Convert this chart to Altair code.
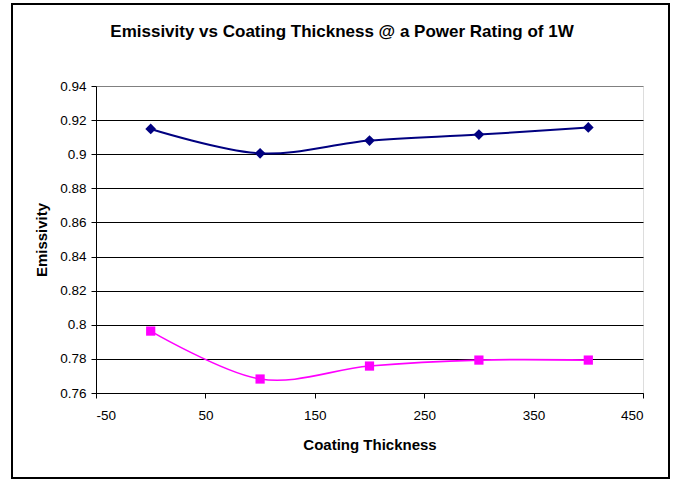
import altair as alt
import pandas as pd

# Coating thickness values and measured emissivity for the two samples
thickness = [0, 100, 200, 300, 400]
emissivity_a = [0.9148, 0.9005, 0.9080, 0.9115, 0.9157]
emissivity_b = [0.7963, 0.7682, 0.7758, 0.7793, 0.7793]
series_names = ["Series1", "Series2"]
series_colors = ["#000080", "#FF00FF"]
series_shapes = ["diamond", "square"]
marker_sizes = [115, 85]
line_widths = [2, 1.6]

x_ticks = [-50, 50, 150, 250, 350, 450]
y_ticks = [0.76, 0.78, 0.80, 0.82, 0.84, 0.86, 0.88, 0.90, 0.92, 0.94]

chart_title = "Emissivity vs Coating Thickness @ a Power Rating of 1W"

rows = []
for name, values in zip(series_names, [emissivity_a, emissivity_b]):
    for t, v in zip(thickness, values):
        rows.append({"thickness": t, "emissivity": v, "series": name})
df = pd.DataFrame(rows)

font = "Liberation Sans"

x_enc = alt.X(
    "thickness:Q",
    scale=alt.Scale(domain=[-50, 450], nice=False, zero=False),
    axis=alt.Axis(
        values=x_ticks, tickCount=len(x_ticks), title="Coating Thickness", grid=False,
        labelExpr="'' + datum.value", labelOverlap=False,
        domainColor="black", tickColor="black", tickSize=5,
        labelColor="black", labelFontSize=13.5, labelFont=font, labelPadding=10,
        titleFont=font, titleFontSize=15, titleFontWeight="bold",
        titleColor="black", titlePadding=16,
    ),
)
y_enc = alt.Y(
    "emissivity:Q",
    scale=alt.Scale(domain=[0.76, 0.94], nice=False, zero=False),
    axis=alt.Axis(
        values=y_ticks, tickCount=len(y_ticks), title="Emissivity",
        labelExpr="format(datum.value, '.2~f')", labelOverlap=False,
        grid=True,
        gridColor={"condition": {"test": "datum.value >= 0.939", "value": "#808080"}, "value": "#000000"},
        gridWidth=1,
        domainColor="black", tickColor="black", tickSize=5,
        labelColor="black", labelFontSize=13.5, labelFont=font, labelPadding=5,
        titleFont=font, titleFontSize=15, titleFontWeight="bold",
        titleColor="black", titlePadding=10,
    ),
)
color_enc = alt.Color("series:N", scale=alt.Scale(domain=series_names, range=series_colors), legend=None)
shape_enc = alt.Shape("series:N", scale=alt.Scale(domain=series_names, range=series_shapes), legend=None)
size_enc = alt.Size("series:N", scale=alt.Scale(domain=series_names, range=marker_sizes), legend=None)
width_enc = alt.StrokeWidth("series:N", scale=alt.Scale(domain=series_names, range=line_widths), legend=None)

lines = alt.Chart(df).mark_line(interpolate="cardinal", tension=0).encode(
    x=x_enc, y=y_enc, color=color_enc, strokeWidth=width_enc
)
points = alt.Chart(df).mark_point(filled=True, opacity=1).encode(
    x="thickness:Q", y="emissivity:Q", color=color_enc, shape=shape_enc, size=size_enc
)

# Chart heading, centred over the whole frame
heading = alt.Chart(pd.DataFrame({"t": [chart_title]})).mark_text(
    font=font, fontSize=17, fontWeight="bold", color="black",
    align="center", baseline="middle", clip=False,
).encode(text="t:N", x=alt.value(246), y=alt.value(-54))

# Outer border around the whole chart
frame = alt.Chart(pd.DataFrame({"k": [0]})).mark_rect(
    fill=None, stroke="black", strokeWidth=2, clip=False
).encode(x=alt.value(-84), x2=alt.value(573), y=alt.value(-82), y2=alt.value(392))

chart = alt.layer(lines, points, heading, frame).properties(
    width=547,
    height=307,
    padding={"left": 96, "top": 86, "right": 31, "bottom": 86},
    autosize=alt.AutoSizeParams(type="none"),
).configure_view(stroke="#808080", strokeWidth=1).configure(background="white")

chart.save("out.html", embed_options={"renderer": "svg", "actions": False})
